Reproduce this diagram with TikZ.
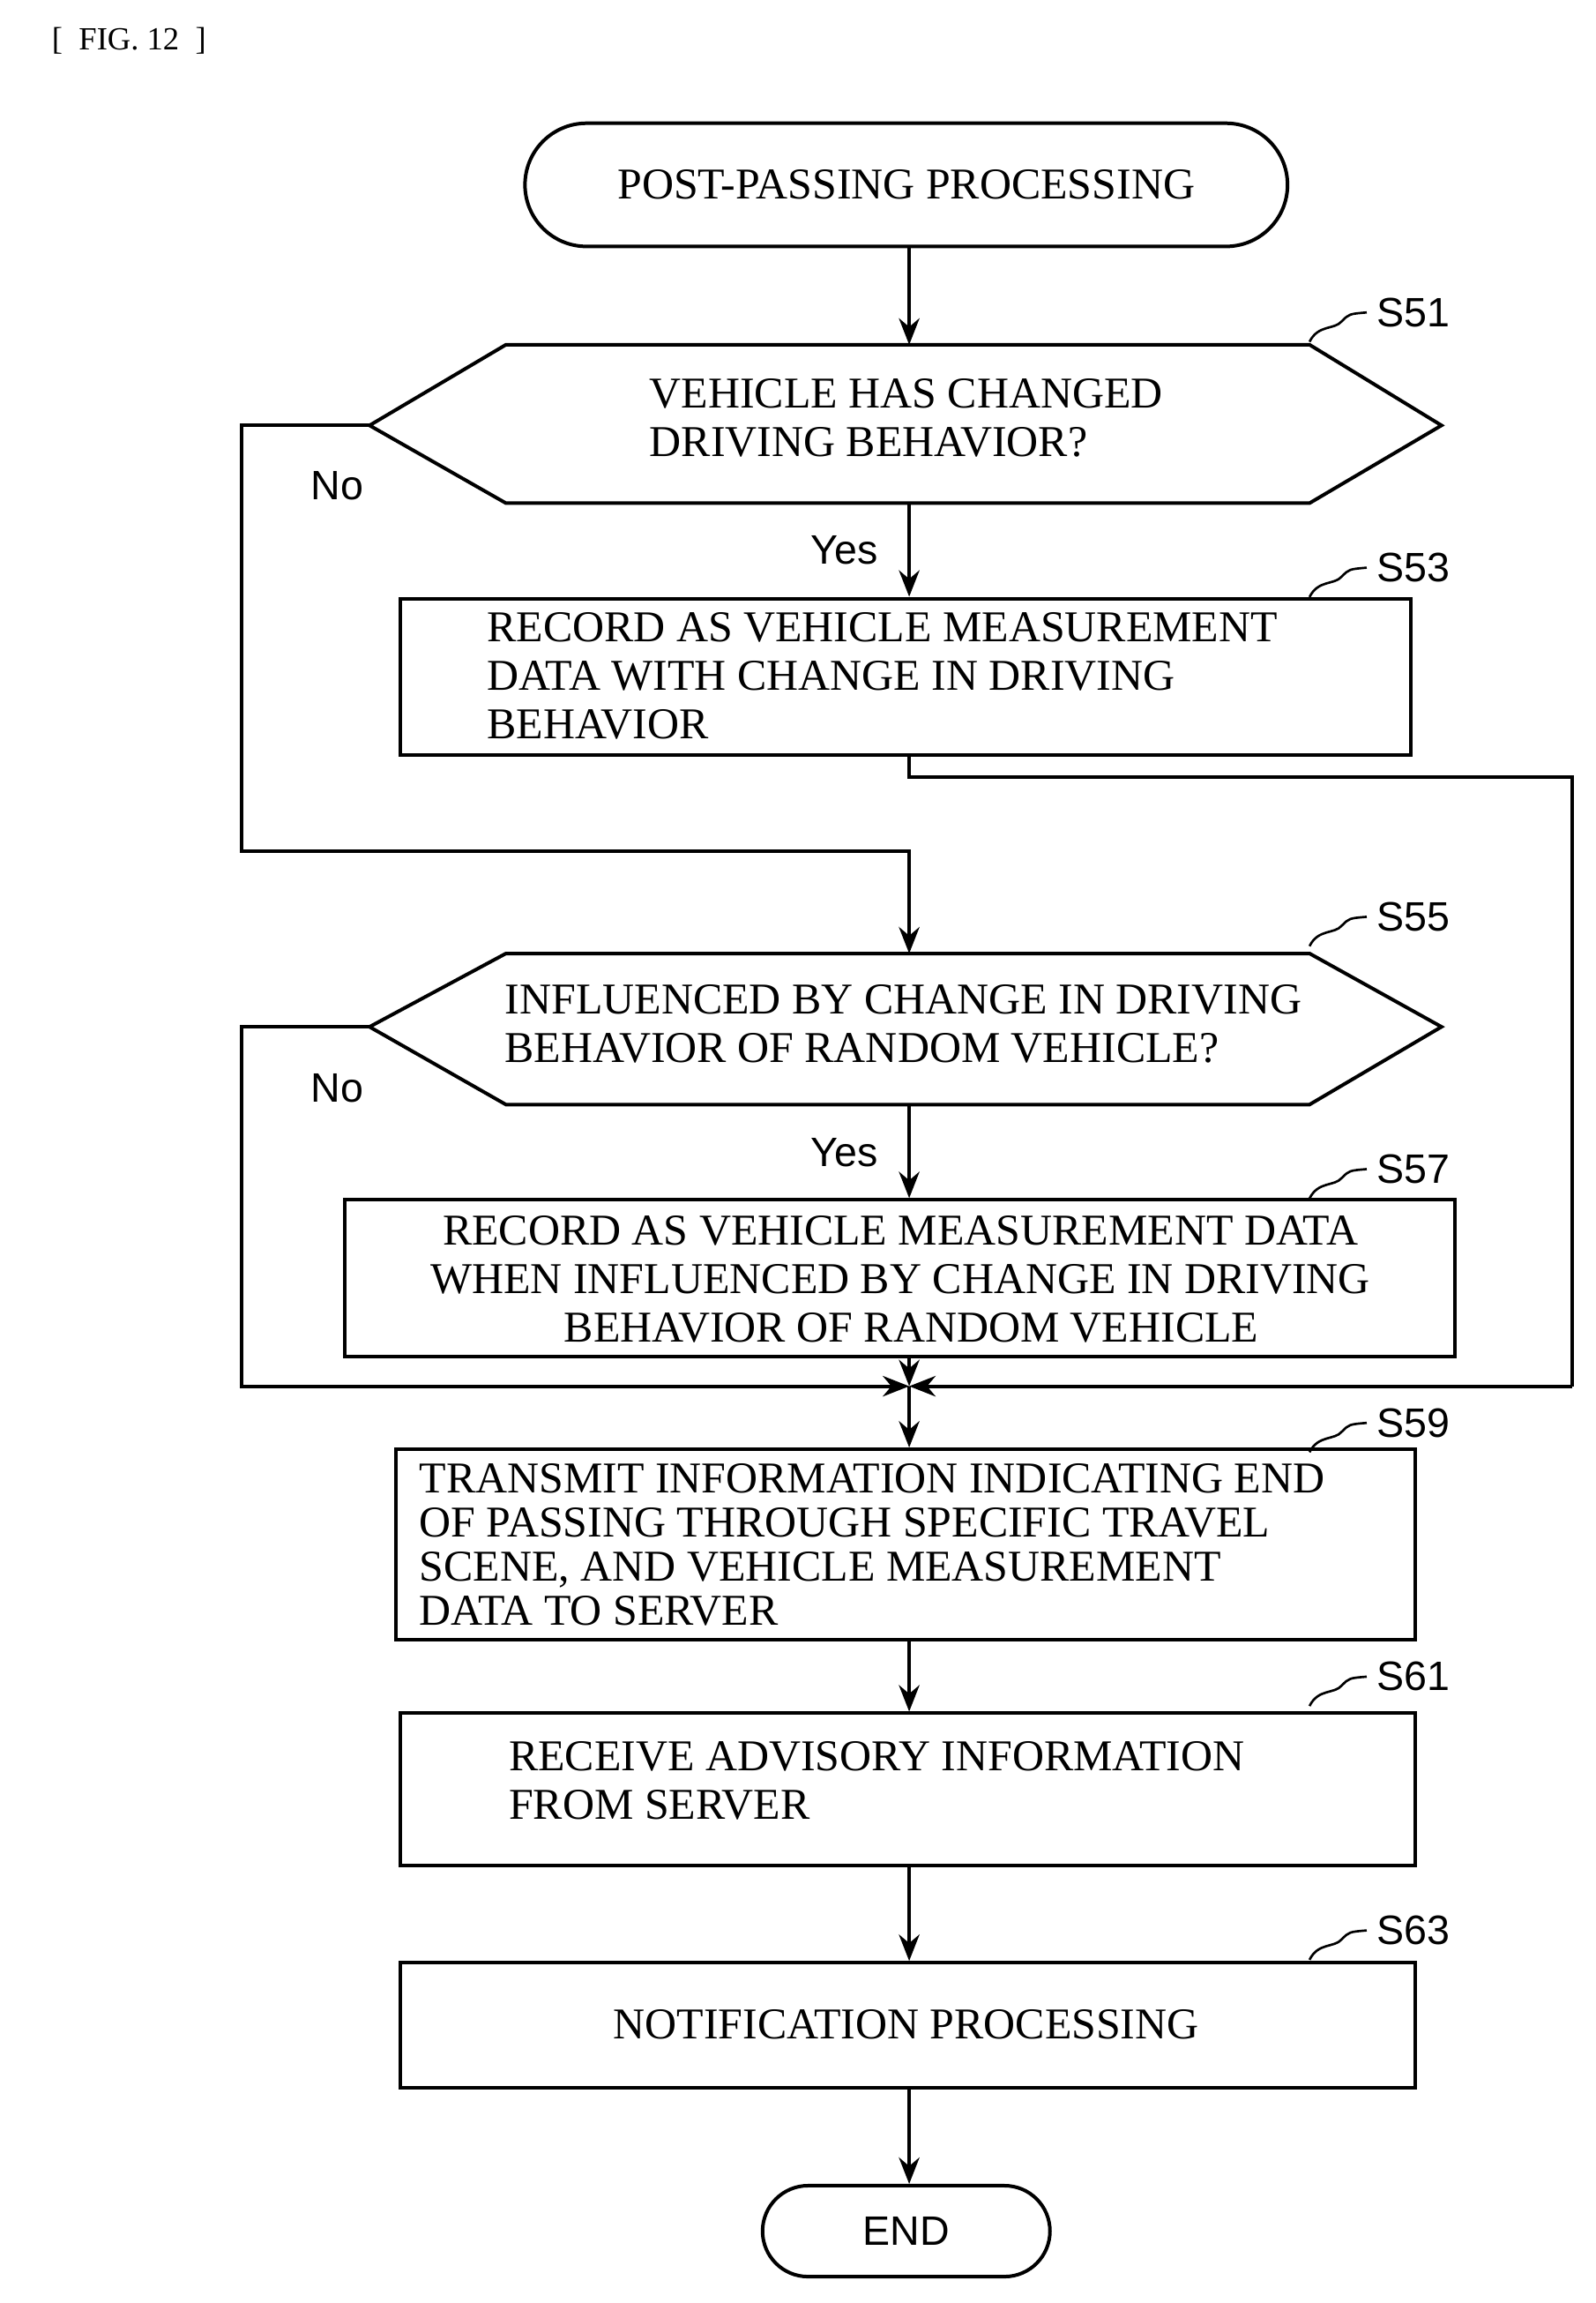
\documentclass[tikz,border=0pt]{standalone}
\usepackage{fontspec}
\setmainfont{Liberation Serif}
\setsansfont{Liberation Sans}
\usetikzlibrary{arrows.meta}
\begin{document}
\begin{tikzpicture}[x=0.5pt,y=-0.5pt,
  ln/.style={line width=1.2pt},
  arr/.style={ln,-{Stealth[length=9pt,width=7pt]}},
  box/.style={draw,ln,inner sep=0pt},
  txt/.style={font=\fontsize{15}{16.5}\selectfont,align=left},
  lab/.style={font=\sffamily\fontsize{14}{16}\selectfont},
  sq/.style={line width=0.8pt}]
\useasboundingbox (0,0) rectangle (1088,1570);
\node[font=\fontsize{11}{12}\selectfont] (fig) at (88,28) {[\ \ FIG. 12\ \ ]};
% start
\node[box,rounded corners=21pt,minimum width=260pt,minimum height=42pt,font=\fontsize{15}{16}\selectfont] (start) at (618,126) {POST-PASSING PROCESSING};
% S51
\coordinate (h1l) at (252,290); \coordinate (h1r) at (983,290);
\coordinate (h1t) at (620,235); \coordinate (h1b) at (620,343);
\draw[ln] (h1l) -- (345,235) -- (893,235) -- (h1r) -- (893,343) -- (345,343) -- cycle;
\node[txt] (t51) at (618,285) {VEHICLE HAS CHANGED\\DRIVING BEHAVIOR?};
% S53
\node[box,minimum width=344.5pt,minimum height=53.5pt] (s53) at (617.5,461.5) {};
\node[txt,anchor=west] (t53) at (325,461) {RECORD AS VEHICLE MEASUREMENT\\DATA WITH CHANGE IN DRIVING\\BEHAVIOR};
% S55
\coordinate (h2l) at (252,700); \coordinate (h2r) at (983,700);
\coordinate (h2t) at (620,650); \coordinate (h2b) at (620,753);
\draw[ln] (h2l) -- (345,650) -- (893,650) -- (h2r) -- (893,753) -- (345,753) -- cycle;
\node[txt] (t55) at (616,698) {INFLUENCED BY CHANGE IN DRIVING\\BEHAVIOR OF RANDOM VEHICLE?};
% S57
\node[box,minimum width=378.5pt,minimum height=53.5pt] (s57) at (613.5,871.5) {};
\node[txt,align=center] (t57) at (614,872) {RECORD AS VEHICLE MEASUREMENT DATA\\WHEN INFLUENCED BY CHANGE IN DRIVING\\\ \ BEHAVIOR OF RANDOM VEHICLE};
\coordinate (m) at (620,945);
% S59
\node[box,minimum width=347.5pt,minimum height=65pt] (s59) at (617.5,1053) {};
\node[txt,anchor=west,font=\fontsize{15}{15}\selectfont] (t59) at (279,1053) {TRANSMIT INFORMATION INDICATING END\\OF PASSING THROUGH SPECIFIC TRAVEL\\SCENE, AND VEHICLE MEASUREMENT\\DATA TO SERVER};
% S61
\node[box,minimum width=346pt,minimum height=52pt] (s61) at (619,1220) {};
\node[txt,anchor=west] (t61) at (340,1214) {RECEIVE ADVISORY INFORMATION\\FROM SERVER};
% S63
\node[box,minimum width=346pt,minimum height=42.5pt] (s63) at (619,1380.5) {};
\node[txt] (t63) at (618,1380) {NOTIFICATION PROCESSING};
% END
\node[box,rounded corners=15.5pt,minimum width=98pt,minimum height=31pt,font=\sffamily\fontsize{14}{16}\selectfont] (end) at (618,1521) {END};
% connectors
\draw[arr] (start.south -| h1t) -- (h1t);
\draw[arr] (h1b) -- (s53.north -| h1b);
\draw[arr] (h1l) -- (165,290) -- (165,580) -- (620,580) -- (h2t);
\draw[ln] (s53.south -| h1b) -- (620,530) -- (1072,530) -- (1072,945);
\draw[arr] (1072,945) -- (m);
\draw[arr] (h2b) -- (s57.north -| h2b);
\draw[arr] (h2l) -- (165,700) -- (165,945) -- (m);
\draw[arr] (s57.south -| m) -- (m);
\draw[arr] (m) -- (s59.north -| m);
\draw[arr] (s59.south -| m) -- (s61.north -| m);
\draw[arr] (s61.south -| m) -- (s63.north -| m);
\draw[arr] (s63.south -| m) -- (end.north -| m);
% labels
\node[lab] (no1) at (230,331) {No};
\node[lab] (yes1) at (576,375) {Yes};
\node[lab] (no2) at (230,742) {No};
\node[lab] (yes2) at (576,786) {Yes};
\foreach \n/\y in {51/213,53/387,55/625,57/797,59/970,61/1143,63/1316}{
  \node[lab,anchor=west] (l\n) at (932,\y) {S\n};
  \draw[sq] (893,\y+20) .. controls (899,\y+8) and (910,\y+12) .. (915,\y+6) .. controls (920,\y+1) .. (932,\y);
}
\end{tikzpicture}
\end{document}
